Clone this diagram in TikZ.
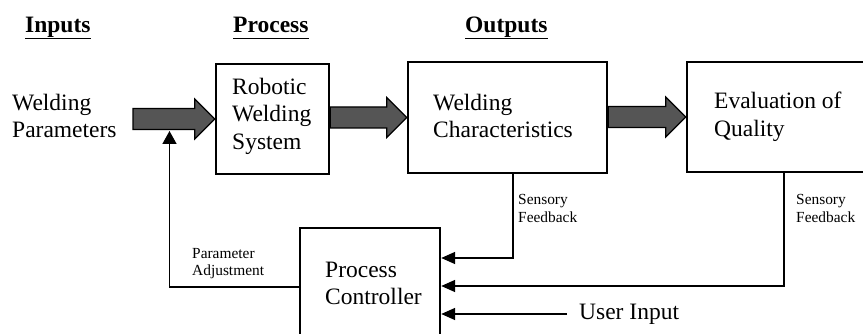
\documentclass[tikz,border=0pt]{standalone}
\usepackage{fontspec}
\setmainfont{Liberation Serif}
\usetikzlibrary{arrows.meta,calc}

\definecolor{arrowgray}{HTML}{555555}

\tikzset{
  box/.style={draw, line width=2.4pt, inner sep=0pt},
  big/.style={font=\fontsize{23.5}{27.5}\selectfont, inner sep=0pt, align=left},
  small/.style={font=\fontsize{15.4}{17.5}\selectfont, inner sep=0pt, align=left},
  header/.style={font=\fontsize{23.5}{27.5}\selectfont\bfseries, inner sep=0pt},
  uline/.style={line width=1.8pt},
  fb/.style={line width=1.6pt, -{Triangle[length=14pt,width=12pt]}},
  fb up/.style={line width=1.6pt, -{Triangle[length=13pt,width=14pt]}},
  fat/.style={draw=black, line width=1.2pt, fill=arrowgray, line join=miter},
}

% wide grey block arrow from the x of #1 to the point #2
\newcommand\fatarrow[2]{%
  \draw[fat] let \p1=(#1), \p2=(#2) in
    (\x1,\y2+10.5pt) -- (\x2-20pt,\y2+10.5pt) -- (\x2-20pt,\y2+20pt) --
    (\x2,\y2) --
    (\x2-20pt,\y2-20pt) -- (\x2-20pt,\y2-10.5pt) -- (\x1,\y2-10.5pt) -- cycle;}

\begin{document}
\begin{tikzpicture}[x=1pt,y=1pt]
  \useasboundingbox (0,0) rectangle (863,-334);
  \clip (0,0) rectangle (863,-334);

  % column headings
  \node[header, anchor=base west] (hin)  at (25,-33)  {Inputs};
  \node[header, anchor=base west] (hpro) at (233,-33) {Process};
  \node[header, anchor=base west] (hout) at (465,-33) {Outputs};
  \foreach \h in {hin,hpro,hout}
    \draw[uline] ([yshift=-5.5pt]\h.base west) -- ([yshift=-5.5pt]\h.base east);

  % blocks
  \node[box, minimum width=113pt, minimum height=110pt] (rws) at (272.5,-119) {};
  \node[box, minimum width=199pt, minimum height=111pt] (wc)  at (507.5,-117.5) {};
  \node[box, minimum width=213pt, minimum height=110pt] (eq)  at (793.5,-117) {};
  \node[box, minimum width=140pt, minimum height=110pt] (pc)  at (370,-283) {};

  % texts
  \node[big, anchor=west] (wp)   at (12,-115.75)  {Welding\\Parameters};
  \node[big, anchor=west] (rwsT) at (232,-116)    {Robotic\\Welding\\System};
  \node[big, anchor=west] (wcT)  at (433,-115.75) {Welding\\Characteristics};
  \node[big, anchor=west] (eqT)  at (714,-117)    {Evaluation of\\Quality};
  \node[big, anchor=west] (pcT)  at (325,-283.2)  {Process\\Controller};

  % forward flow
  \coordinate (wpEnd) at (133,-119);
  \fatarrow{wpEnd}{rws.west}
  \fatarrow{rws.east}{wc.west}
  \fatarrow{wc.east}{eq.west}

  % feedback from the welding characteristics
  \draw[fb] ([xshift=5.5pt]wc.south) |- ([yshift=25pt]pc.east);
  \node[small, anchor=west] (sf1) at (518,-208.6) {Sensory\\Feedback};

  % feedback from the quality evaluation
  \draw[fb] ([xshift=-9.5pt]eq.south) |- ([yshift=-3pt]pc.east);
  \node[small, anchor=west] (sf2) at (796,-208.6) {Sensory\\Feedback};

  % user input
  \coordinate (ui) at (567,-314);
  \draw[fb] (ui) -- (ui -| pc.east);
  \node[big, anchor=base west] (uiT) at (579,-319) {User Input};

  % parameter adjustment back to the input
  \coordinate (paTip) at (169.5,-131);
  \draw[fb up] ([yshift=-4pt]pc.west) -| (paTip);
  \node[small, anchor=west] (paT) at (192,-263.6) {Parameter\\Adjustment};
\end{tikzpicture}
\end{document}
